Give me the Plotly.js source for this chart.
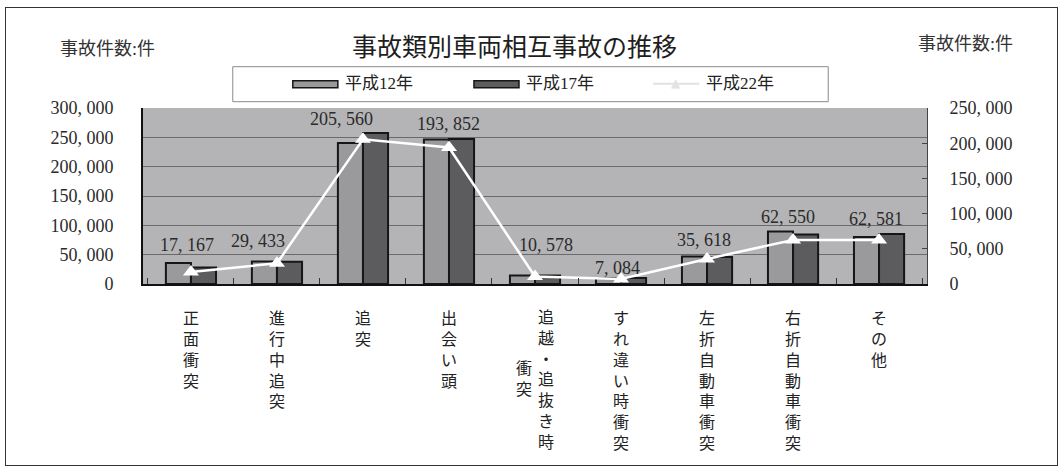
<!DOCTYPE html>
<html>
<head>
<meta charset="utf-8">
<script src="https://cdn.plot.ly/plotly-3.0.1.min.js"></script>
<style>
  html, body { margin: 0; padding: 0; background: #fff; }
  #wrap { position: relative; width: 1064px; height: 471px; }
  #chart { width: 1064px; height: 471px; }
  #frame { position: absolute; left: 5px; top: 7px; width: 1051px; height: 457px;
           border: 1px solid #333; pointer-events: none; }
</style>
</head>
<body>
<div id="wrap"><div id="chart"></div><div id="frame"></div></div>
<script>
// ---- data ----
const categories = ['正面衝突', '進行中追突', '追突', '出会い頭', '追越・追抜き時衝突',
                    'すれ違い時衝突', '左折自動車衝突', '右折自動車衝突', 'その他'];
const seriesNames = ['平成12年', '平成17年', '平成22年'];
const h12 = [35800, 38500, 240300, 246500, 14700, 10200, 47000, 89700, 80100];
const h17 = [28300, 37800, 257400, 247200, 14500, 10200, 46000, 84500, 85200];
const h22 = [17167, 29433, 205560, 193852, 10578, 7084, 35618, 62550, 62581];
const leftTicks = [0, 50000, 100000, 150000, 200000, 250000, 300000];
const rightTicks = [0, 50000, 100000, 150000, 200000, 250000];
const title = '事故類別車両相互事故の推移';
const unitLabel = '事故件数:件';

// ---- styling ----
const W = 1064, H = 471, L = 143.3, R = 137.3, T = 108.3, B = 186.7;
const PX = x => (x - L) / (W - L - R);
const PY = y => (H - B - y) / (H - T - B);
const c12 = '#9a9a9c', c17 = '#5c5c5e', c22 = '#ffffff';
const numFont = 'Liberation Serif, Noto Sans CJK JP, serif';
const cjkFont = 'Noto Sans CJK JP, sans-serif';
const fmt = v => v.toLocaleString('en-US').replace(/,/g, ', ');
// label nudges (pixels) for the data labels: [dx, dy]
const labelNudge = [[-4, 27], [-19, 22], [-21, 20], [0, 24], [11, 32], [-4, 11], [-3, 19], [-5, 23], [-3, 21]];
const COL = 7; // characters per vertical column
const vert = s => s.split('').join('<br>');
const tickText = categories.map(c => c.length > COL ? '' : vert(c));

const traces = [
  { type: 'bar', name: seriesNames[0], x: categories, y: h12, yaxis: 'y',
    marker: { color: c12, line: { color: '#161616', width: 2 } }, showlegend: false, hoverinfo: 'y' },
  { type: 'bar', name: seriesNames[1], x: categories, y: h17, yaxis: 'y',
    marker: { color: c17, line: { color: '#161616', width: 2 } }, showlegend: false, hoverinfo: 'y' },
  { type: 'scatter', mode: 'lines+markers', name: seriesNames[2], x: categories, y: h22, yaxis: 'y2',
    line: { color: c22, width: 2.5 }, marker: { symbol: 'triangle-up', size: 14, color: c22 },
    showlegend: false, hoverinfo: 'y' }
];

const annotations = [];
// data labels
h22.forEach((v, i) => annotations.push({
  x: categories[i], y: v, xref: 'x', yref: 'y2', text: fmt(v), showarrow: false,
  xanchor: 'center', yanchor: 'middle', xshift: labelNudge[i][0], yshift: labelNudge[i][1],
  font: { family: numFont, size: 18, color: '#2a2a2a' }
}));
// long category labels: two vertical columns, wrapped to the left
categories.forEach((c, i) => {
  if (c.length > COL) {
    annotations.push({
      x: c, y: 0, xref: 'x', yref: 'paper', text: vert(c.slice(0, COL)), showarrow: false,
      xanchor: 'center', yanchor: 'middle', xshift: 11, yshift: -94,
      font: { family: cjkFont, size: 16, color: '#222' }
    });
    annotations.push({
      x: c, y: 0, xref: 'x', yref: 'paper', text: vert(c.slice(COL)), showarrow: false,
      xanchor: 'center', yanchor: 'middle', xshift: -11, yshift: -93,
      font: { family: cjkFont, size: 16, color: '#222' }
    });
  }
});
// unit labels
annotations.push({ x: PX(58), y: PY(49), xref: 'paper', yref: 'paper', text: unitLabel, showarrow: false,
  xanchor: 'left', yanchor: 'middle', font: { family: numFont, size: 18, color: '#333' } });
annotations.push({ x: PX(916), y: PY(44), xref: 'paper', yref: 'paper', text: unitLabel, showarrow: false,
  xanchor: 'left', yanchor: 'middle', font: { family: numFont, size: 18, color: '#333' } });
// legend texts
const legText = [343, 524, 704];
seriesNames.forEach((n, i) => annotations.push({
  x: PX(legText[i]), y: PY(84), xref: 'paper', yref: 'paper', text: n, showarrow: false,
  xanchor: 'left', yanchor: 'middle', font: { family: numFont, size: 17, color: '#222' }
}));
annotations.push({ x: PX(676), y: PY(83), xref: 'paper', yref: 'paper', text: '▲', showarrow: false,
  xanchor: 'center', yanchor: 'middle', font: { family: 'DejaVu Sans', size: 12, color: '#e2e2e2' } });

const shapes = [
  { type: 'rect', xref: 'paper', yref: 'paper', x0: PX(233), x1: PX(828), y0: PY(67), y1: PY(102),
    line: { color: '#8a8a8a', width: 1 }, fillcolor: '#fff', layer: 'below' },
  { type: 'rect', xref: 'paper', yref: 'paper', x0: PX(293), x1: PX(338), y0: PY(81), y1: PY(88),
    line: { color: '#161616', width: 1.5 }, fillcolor: c12 },
  { type: 'rect', xref: 'paper', yref: 'paper', x0: PX(474), x1: PX(519), y0: PY(81), y1: PY(88),
    line: { color: '#161616', width: 1.5 }, fillcolor: c17 },
  { type: 'line', xref: 'paper', yref: 'paper', x0: PX(653), x1: PX(699), y0: PY(84), y1: PY(84),
    line: { color: '#e2e2e2', width: 2 } }
];

const layout = {
  width: W, height: H,
  margin: { l: L, r: R, t: T, b: B, pad: 0 },
  paper_bgcolor: '#ffffff', plot_bgcolor: '#b4b4b6',
  title: { text: title, font: { family: cjkFont, size: 25, color: '#1e1e1e' },
           xref: 'container', yref: 'container', x: 514.5 / W, y: 1 - 47 / H,
           xanchor: 'center', yanchor: 'middle' },
  showlegend: false,
  barmode: 'group', bargap: 0.417, bargroupgap: 0,
  xaxis: {
    type: 'category', tickvals: categories, ticktext: tickText,
    ticks: 'inside', tickson: 'boundaries', ticklen: 6, tickcolor: '#333', tickwidth: 1,
    showline: true, linecolor: '#111', linewidth: 2, showgrid: false,
    tickfont: { family: cjkFont, size: 16, color: '#222' }, ticklabelstandoff: 19,
    fixedrange: true
  },
  yaxis: {
    range: [0, 300000], tickvals: leftTicks, ticktext: leftTicks.map(fmt),
    showline: true, linecolor: '#111', linewidth: 2, ticks: '',
    showgrid: true, gridcolor: '#6a6a6a', gridwidth: 1, zeroline: false,
    tickfont: { family: numFont, size: 18, color: '#2a2a2a' }, ticklabelstandoff: 24,
    fixedrange: true
  },
  yaxis2: {
    range: [0, 250000], tickvals: rightTicks, ticktext: rightTicks.map(fmt),
    overlaying: 'y', side: 'right', showline: true, linecolor: '#444', linewidth: 1,
    ticks: 'inside', ticklen: 5, tickcolor: '#444', showgrid: false, zeroline: false,
    tickfont: { family: numFont, size: 18, color: '#2a2a2a' }, ticklabelstandoff: 18,
    fixedrange: true
  },
  annotations: annotations,
  shapes: shapes
};

Plotly.newPlot('chart', traces, layout, { displayModeBar: false, staticPlot: true });
</script>
</body>
</html>
